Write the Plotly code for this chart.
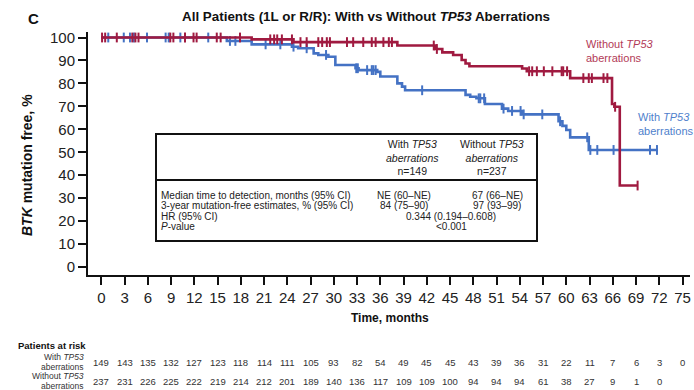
import plotly.graph_objects as go
import numpy as np

# ---------------- data ----------------
with_t = [0, 16.2, 19.4, 24.6, 25.4, 27.4, 28.0, 29.3, 30.2, 32.8, 33.2, 35.6, 36.0, 38.2, 38.8, 39.2,
          47.0, 47.6, 48.4, 49.5, 51.7, 52.5, 54.3, 59.0, 59.5, 60.0, 60.5, 62.9, 71.8]
with_s = [100, 98.5, 97.0, 96.0, 95.3, 93.1, 92.4, 91.6, 88.0, 86.6, 85.8, 85.0, 83.0, 80.0, 78.6, 77.0,
          75.0, 74.2, 73.5, 71.0, 69.0, 68.0, 66.5, 63.5, 61.5, 59.7, 56.5, 51.0, 51.0]
with_cens = [0.9, 2.9, 3.7, 4.2, 5.9, 8.3, 8.7, 10.2, 13.8, 16.6, 17.3, 21.2, 23.1, 24.8, 26.5, 29.0,
             32.9, 33.1, 34.3, 34.9, 35.1, 35.4, 41.4, 48.7, 48.9, 49.4, 51.9, 53.0, 54.1, 54.5, 56.9,
             59.2, 62.7, 63.1, 64.0, 66.1, 70.8, 71.7]

without_t = [0, 19.4, 24.8, 38.2, 43.1, 44.0, 45.4, 46.5, 47.0, 47.5, 54.3, 54.9, 60.5, 65.9, 66.2, 66.9, 69.2]
without_s = [100, 99.2, 98.0, 96.5, 95.0, 93.5, 92.4, 90.2, 88.7, 87.5, 86.5, 85.3, 82.3, 71.0, 69.8, 35.5, 35.5]
without_cens = [0.1, 0.5, 2.0, 4.0, 4.4, 4.8, 8.9, 9.3, 10.8, 11.9, 12.3, 14.9, 15.4, 17.9, 21.8, 22.3,
                22.7, 23.3, 24.6, 25.7, 26.5, 28.0, 28.5, 29.1, 29.5, 31.7, 32.5, 33.8, 34.9, 35.4, 36.4,
                37.1, 37.5, 42.9, 43.3, 55.2, 55.6, 56.2, 57.1, 58.2, 59.4, 59.6, 60.1, 62.2, 62.9, 63.3,
                64.8, 65.3, 66.3, 69.2]

risk_months = list(range(0, 76, 3))
with_risk = [149, 143, 135, 132, 127, 123, 118, 114, 111, 105, 93, 82, 54, 49, 45, 45, 43, 39, 36, 31,
             22, 11, 7, 6, 3, 0]
without_risk = [237, 231, 226, 225, 222, 219, 214, 212, 201, 189, 140, 136, 117, 109, 109, 100, 94, 94,
                94, 61, 38, 27, 9, 1, 0]
y_ticks = list(range(0, 101, 10))

stat_rows = ["Median time to detection, months (95% CI)",
             "3-year mutation-free estimates, % (95% CI)",
             "HR (95% CI)",
             "<i>P</i>-value"]
stat_with = ["NE (60–NE)", "84 (75–90)"]
stat_without = ["67 (66–NE)", "97 (93–99)"]
stat_shared = ["0.344 (0.194–0.608)", "<0.001"]

# ---------------- style ----------------
RED = "#A01A40"
BLUE = "#4472C4"
RED_TXT = "#B23A57"
BLUE_TXT = "#4F7FCC"
FONT = "Liberation Sans, Arial, sans-serif"

W, H = 694, 390
L, R, T, B = 88, 4, 32, 115
X0_PX, X_PER = 101.3, 7.75      # pixel of month 0, pixels per month
Y0_PX, Y_PER = 267.0, 2.295     # pixel of 0%, pixels per %
x_range = [(L - X0_PX) / X_PER, (W - R - X0_PX) / X_PER]
y_range = [(Y0_PX - (H - B)) / Y_PER, (Y0_PX - T) / Y_PER]


def px_x(px):
    return (px - X0_PX) / X_PER


def px_y(py):
    return (Y0_PX - py) / Y_PER


def paper_x(px):
    return (px - L) / (W - L - R)


def paper_y(py):
    return ((H - B) - py) / (H - T - B)


def step_at(ts, ss, t):
    idx = np.searchsorted(np.array(ts), np.array(t), side="right") - 1
    return list(np.array(ss)[idx])


def txt(x, y, text, size, color="#222", xref="paper", yref="paper", xanchor="center", **kw):
    x = paper_x(x) if xref == "paper" else px_x(x)
    y = paper_y(y) if yref == "paper" else px_y(y)
    return dict(x=x, y=y, xref=xref, yref=yref, xanchor=xanchor, yanchor="middle", text=text,
                showarrow=False, font=dict(size=size, color=color, family=FONT), **kw)


fig = go.Figure()
for ts, ss, cens, col in [(with_t, with_s, with_cens, BLUE), (without_t, without_s, without_cens, RED)]:
    fig.add_trace(go.Scatter(x=ts, y=ss, mode="lines", line=dict(color=col, width=2.6, shape="hv"),
                             hoverinfo="skip", showlegend=False))
    fig.add_trace(go.Scatter(x=cens, y=step_at(ts, ss, cens), mode="markers",
                             marker=dict(symbol="line-ns", size=7, line=dict(color=col, width=2)),
                             hoverinfo="skip", showlegend=False, cliponaxis=False))

ann = []
ann.append(txt(366, 17, "<b>All Patients (1L or R/R): With vs Without <i>TP53</i> Aberrations</b>", 13.4, "#111"))
ann.append(txt(33, 19, "<b>C</b>", 15, "#111"))
ann.append(txt(27, 165, "<b><i>BTK</i> mutation free, %</b>", 14, "#111", textangle=-90))
ann.append(txt(390, 318, "<b>Time, months</b>", 12, "#111"))
# curve labels
ann.append(txt(584, 51, "Without <i>TP53</i><br>aberrations", 11, RED_TXT, xref="x", yref="y",
               xanchor="left", align="left"))
ann.append(txt(636, 124, "With <i>TP53</i><br>aberrations", 11, BLUE_TXT, xref="x", yref="y",
               xanchor="left", align="left"))

# stats box
BOX = dict(x0=px_x(156), x1=px_x(537), y0=px_y(241), y1=px_y(134))
shapes = [dict(type="rect", xref="x", yref="y", **BOX, line=dict(color="#111", width=2),
               fillcolor="white", layer="above"),
          dict(type="line", xref="x", yref="y", x0=BOX["x0"], x1=BOX["x1"], y0=px_y(180), y1=px_y(180),
               line=dict(color="#111", width=2), layer="above")]
ann.append(txt(412, 157, "With <i>TP53</i><br><i>aberrations</i><br>n=149", 10.5, xref="x", yref="y"))
ann.append(txt(492, 157, "Without <i>TP53</i><br><i>aberrations</i><br>n=237", 10.5, xref="x", yref="y"))
row_py = [195, 205.5, 216, 226.5]
for i, lab in enumerate(stat_rows):
    ann.append(txt(159, row_py[i], lab, 10, xref="x", yref="y", xanchor="left"))
for i in range(2):
    ann.append(txt(404, row_py[i], stat_with[i], 10, xref="x", yref="y"))
    ann.append(txt(497, row_py[i], stat_without[i], 10, xref="x", yref="y"))
    ann.append(txt(451, row_py[i + 2], stat_shared[i], 10, xref="x", yref="y"))

# patients at risk
ann.append(txt(52, 345, "<b>Patients at risk</b>", 9.5, "#111"))
risk_py = [362, 381]
risk_labels = [("With <i>TP53</i>", "aberrations"), ("Without <i>TP53</i>", "aberrations")]
for (l1, l2), vals, py in zip(risk_labels, [with_risk, without_risk], risk_py):
    for t_, dy in [(l1, -5), (l2, 5)]:
        ann.append(txt(86, py + dy, t_, 8.5, "#333", xanchor="right"))
    for m, v in zip(risk_months, vals):
        ann.append(dict(x=m, y=paper_y(py), xref="x", yref="paper", xanchor="center", yanchor="middle",
                        text=str(v), showarrow=False, font=dict(size=9.5, color="#333", family=FONT)))

fig.update_layout(
    width=W, height=H, margin=dict(l=L, r=R, t=T, b=B, autoexpand=False),
    paper_bgcolor="white", plot_bgcolor="white", showlegend=False,
    annotations=ann, shapes=shapes,
    xaxis=dict(range=x_range, tickvals=risk_months, ticks="outside", ticklen=8, tickwidth=2,
               tickcolor="#111", showline=True, linecolor="#111", linewidth=2, showgrid=False,
               zeroline=False, automargin=False, tickfont=dict(size=15, color="#222", family=FONT)),
    yaxis=dict(range=y_range, tickvals=y_ticks, ticks="outside", ticklen=8, tickwidth=2,
               tickcolor="#111", showline=True, linecolor="#111", linewidth=2, showgrid=False,
               zeroline=False, automargin=False, tickfont=dict(size=15, color="#222", family=FONT)),
)
fig.write_html("out.html", config={"displayModeBar": False},
               post_script="document.body.style.margin='0';")
